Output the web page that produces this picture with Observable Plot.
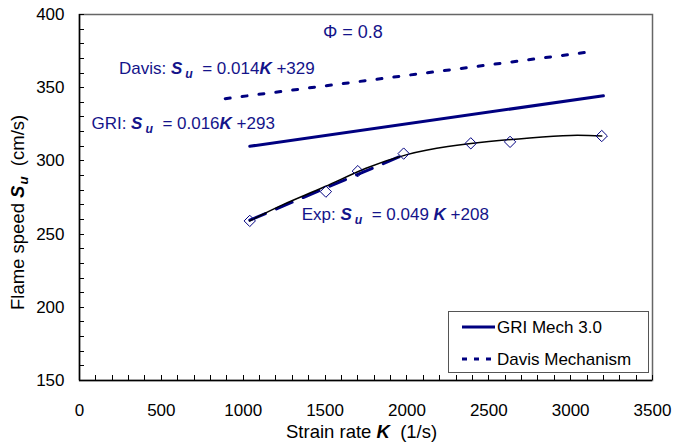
<!DOCTYPE html>
<html><head><meta charset="utf-8">
<script src="https://cdn.jsdelivr.net/npm/d3@7"></script>
<script src="https://cdn.jsdelivr.net/npm/@observablehq/plot@0.6"></script>
<style>body{margin:0;background:#fff;font-family:"Liberation Sans",Arial,sans-serif}</style>
</head><body><div id="chart"></div>
<script>
// ---- data ----
const griK = [1040, 3200];
const griSu = [310, 344.5];
const davisK = [890, 3120];
const davisSu = [342.5, 374.5];
const expK = [1040, 1505, 1700, 1980, 2390, 2630, 3190];
const expSu = [259, 279, 293, 305, 312, 313, 317];
const expFitK = [1040, 2000];
const expFitSu = [259.5, 305];
const expCurveK = [1040, 1250, 1500, 1750, 2000, 2250, 2500, 2750, 3000, 3190];
const expCurveSu = [259, 270.5, 282.5, 295, 304.3, 309.8, 313.2, 315.7, 317.4, 317];
const xTicks = [0, 500, 1000, 1500, 2000, 2500, 3000, 3500];
const xMinorTicks = d3.range(0, 3501, 100);
const yTicks = [150, 200, 250, 300, 350, 400];
const yMinorTicks = d3.range(150, 401, 10);
const legendLabels = ["GRI Mech 3.0", "Davis Mechanism"];

const navy = "#000080";
const textBlue = "#14148a";
const FONT = "'Liberation Sans', Arial, sans-serif";
const pts = (ks, vs) => ks.map((k, i) => ({k, s: vs[i]}));

const plot = Plot.plot({
  width: 673, height: 445,
  marginLeft: 79, marginRight: 21, marginTop: 14, marginBottom: 65,
  x: {domain: [0, 3500]},
  y: {domain: [150, 400]},
  style: {fontFamily: FONT, fontSize: "17px", color: "#000", background: "#fff"},
  marks: [
    Plot.frame({stroke: "#666", strokeWidth: 1.5}),
    Plot.axisX({ticks: xTicks, tickSize: 0, tickPadding: 23, label: null, fontSize: 17, tickFormat: d => String(d)}),
    Plot.axisY({ticks: yTicks, tickSize: 0, tickPadding: 15, label: null, fontSize: 17, tickFormat: d => String(d)}),
    Plot.ruleY([150], {stroke: "#000", strokeWidth: 1.5}),
    Plot.ruleX([0], {stroke: "#000", strokeWidth: 1.5}),
    Plot.line(pts(davisK, davisSu), {x: "k", y: "s", stroke: navy, strokeWidth: 3, strokeDasharray: "5,12"}),
    Plot.line(pts(griK, griSu), {x: "k", y: "s", stroke: navy, strokeWidth: 3}),
    Plot.line(pts(expFitK, expFitSu), {x: "k", y: "s", stroke: navy, strokeWidth: 3, strokeDasharray: "17,12"}),
    Plot.line(pts(expCurveK, expCurveSu), {x: "k", y: "s", stroke: "#000", strokeWidth: 1.5, curve: "natural"}),
    Plot.dot(pts(expK, expSu), {x: "k", y: "s", symbol: "diamond2", r: 5.1, stroke: navy, fill: "none", strokeWidth: 1})
  ]
});
document.getElementById("chart").appendChild(plot);

const svg = d3.select(plot);
const sx = plot.scale("x"), sy = plot.scale("y");

// inward tick marks, positioned through Plot's scales
const tg = svg.append("g").attr("stroke", "#000").attr("stroke-width", 1).attr("fill", "none");
const y0 = sy.apply(150), x0 = sx.apply(0);
for (const d of xMinorTicks) {
  const X = Math.round(sx.apply(d)) + 0.5;
  tg.append("line").attr("x1", X).attr("x2", X).attr("y1", y0).attr("y2", y0 - 5);
}
for (const d of yMinorTicks) {
  const Y = Math.round(sy.apply(d)) + 0.5;
  tg.append("line").attr("y1", Y).attr("y2", Y).attr("x1", x0).attr("x2", x0 + 5);
}

function rich(g, x, y, parts, opts = {}) {
  const t = g.append("text").attr("x", x).attr("y", y)
    .attr("fill", opts.fill || "#000").attr("font-size", opts.size || 17)
    .attr("text-anchor", opts.anchor || "start")
    .attr("font-family", FONT)
    .style("white-space", "pre");
  if (opts.rotate) t.attr("transform", `rotate(${opts.rotate},${x},${y})`);
  let shifted = false;
  for (const p of parts) {
    const ts = t.append("tspan").text(p.t);
    if (p.b) ts.attr("font-weight", "bold").attr("font-style", "italic");
    if (p.sub) { ts.attr("font-size", "0.72em").attr("dy", "0.3em").attr("dx", p.dx ?? 3); shifted = true; }
    else if (shifted) { ts.attr("dy", "-0.216em"); shifted = false; }
  }
  return t;
}

const ann = svg.append("g");
// annotation anchors in data units (K, Su)
rich(ann, sx.apply(1490), sy.apply(383.6), [{t: "\u03A6 = 0.8"}], {fill: textBlue, size: 18});
rich(ann, sx.apply(244), sy.apply(359), [{t: "Davis: "}, {t: "S", b: 1}, {t: "u", b: 1, sub: 1}, {t: "  = 0.014"}, {t: "K", b: 1}, {t: " +329"}], {fill: textBlue});
rich(ann, sx.apply(76), sy.apply(321.4), [{t: "GRI: "}, {t: "S", b: 1}, {t: "u", b: 1, sub: 1}, {t: "  = 0.016"}, {t: "K", b: 1}, {t: " +293"}], {fill: textBlue});
rich(ann, sx.apply(1360), sy.apply(259.3), [{t: "Exp: "}, {t: "S", b: 1}, {t: "u", b: 1, sub: 1}, {t: "  = 0.049 "}, {t: "K", b: 1}, {t: " +208"}], {fill: textBlue});

// axis titles
rich(svg, 286, 438, [{t: "Strain rate "}, {t: "K", b: 1}, {t: "  (1/s)"}], {size: 18.5});
rich(svg, 24, 310, [{t: "Flame speed "}, {t: "S", b: 1}, {t: "u", b: 1, sub: 1, dx: 1}, {t: "  (cm/s)"}], {size: 18.5, rotate: -90});

// legend
const lg = svg.append("g");
lg.append("rect").attr("x", 448.5).attr("y", 311.5).attr("width", 200).attr("height", 61)
  .attr("fill", "#fff").attr("stroke", "#555").attr("stroke-width", 1);
lg.append("line").attr("x1", 462).attr("x2", 495).attr("y1", 327).attr("y2", 327).attr("stroke", navy).attr("stroke-width", 3);
lg.append("line").attr("x1", 462).attr("x2", 495).attr("y1", 359).attr("y2", 359).attr("stroke", navy).attr("stroke-width", 3).attr("stroke-dasharray", "5,7");
lg.selectAll("text.lab").data(legendLabels).join("text")
  .attr("class", "lab")
  .attr("x", 497).attr("y", (d, i) => 333 + i * 32)
  .attr("font-size", 17).attr("font-family", FONT).attr("text-anchor", "start").attr("fill", "#000")
  .text(d => d);
</script></body></html>
